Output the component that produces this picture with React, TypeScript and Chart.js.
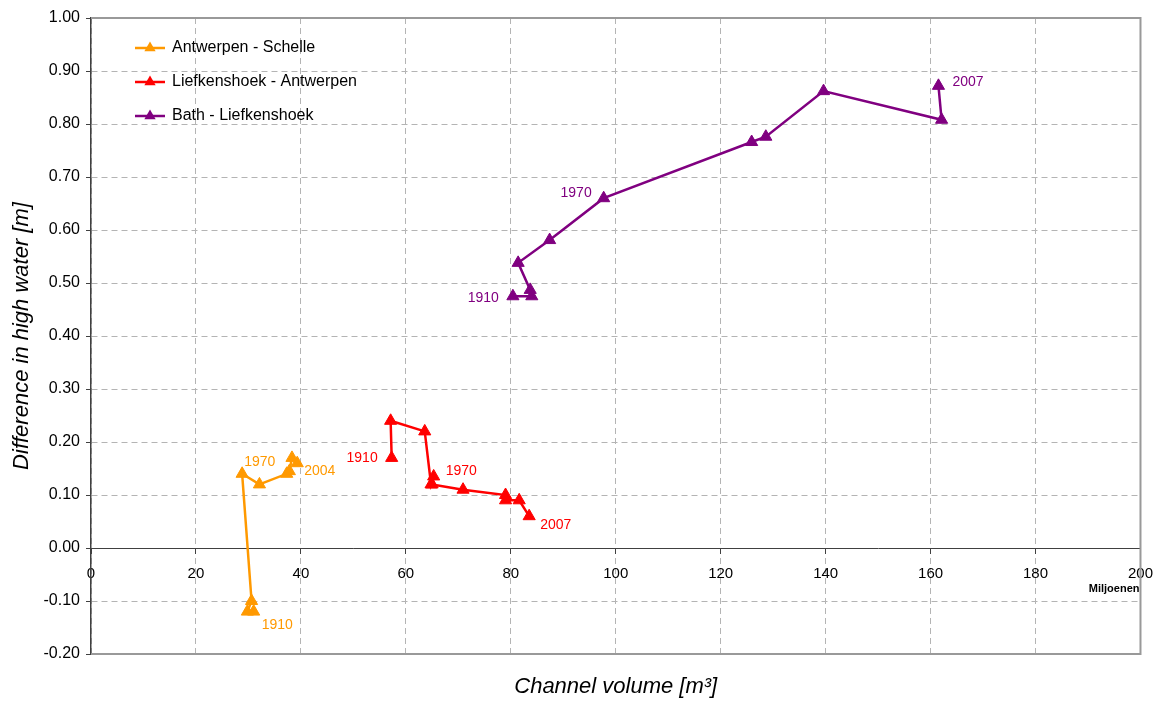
import React, { useEffect, useRef } from "react";
import { Chart, registerables } from "chart.js";

Chart.register(...registerables);

// ---- Data ----
const schelleX = [31.0, 29.8, 30.6, 28.8, 32.1, 37.3, 37.8, 38.3, 39.3];
const schelleY = [-0.12, -0.12, -0.10, 0.14, 0.12, 0.14, 0.145, 0.17, 0.16];
const schelleLabels = ["1910", "", "", "1970", "", "", "", "", "2004"];

const liefX = [57.3, 57.1, 63.6, 64.8, 65.3, 65.0, 70.9, 79.0, 79.0, 81.6, 83.5];
const liefY = [0.17, 0.24, 0.22, 0.12, 0.135, 0.12, 0.11, 0.10, 0.09, 0.09, 0.06];
const liefLabels = ["1910", "", "", "", "1970", "", "", "", "", "", "2007"];

const bathX = [80.4, 84.0, 83.7, 81.4, 87.4, 97.7, 125.9, 128.6, 139.6, 162.1, 161.5];
const bathY = [0.475, 0.475, 0.487, 0.538, 0.581, 0.66, 0.766, 0.776, 0.862, 0.808, 0.872];
const bathLabels = ["1910", "", "", "", "", "1970", "", "", "", "", "2007"];

const seriesNames = ["Antwerpen - Schelle", "Liefkenshoek - Antwerpen", "Bath - Liefkenshoek"];
const seriesColors = ["#FF9900", "#FF0000", "#800080"];

const xTitle = "Channel volume [m³]";
const yTitle = "Difference in high water [m]";
const xUnitNote = "Miljoenen";

// ---- Styles (label placement relative to point, in px) ----
const FONT = "'Liberation Sans', Arial, sans-serif";
const labelPlacement: Record<string, { dx: number; dy: number; align: CanvasTextAlign }>[] = [
  {
    "1910": { dx: 8, dy: 14, align: "left" },
    "1970": { dx: 2, dy: -12, align: "left" },
    "2004": { dx: 7, dy: 8, align: "left" },
  },
  {
    "1910": { dx: -14, dy: 0, align: "right" },
    "1970": { dx: 12, dy: -5, align: "left" },
    "2007": { dx: 11, dy: 9, align: "left" },
  },
  {
    "1910": { dx: -14, dy: 2, align: "right" },
    "1970": { dx: -12, dy: -5, align: "right" },
    "2007": { dx: 14, dy: -4, align: "left" },
  },
];

const toPoints = (xs: number[], ys: number[]) => xs.map((x, i) => ({ x, y: ys[i] }));

const allLabels = [schelleLabels, liefLabels, bathLabels];

const decorPlugin = {
  id: "decor",
  beforeDatasetsDraw(chart: any) {
    const { ctx, chartArea: a } = chart;
    ctx.save();
    ctx.strokeStyle = "#999999";
    ctx.lineWidth = 2;
    ctx.beginPath();
    ctx.moveTo(a.left, a.top);
    ctx.lineTo(a.right, a.top);
    ctx.lineTo(a.right, a.bottom);
    ctx.lineTo(a.left, a.bottom);
    ctx.stroke();
    ctx.restore();
  },
  afterDatasetsDraw(chart: any) {
    const { ctx, chartArea: a } = chart;
    ctx.save();
    // data labels
    ctx.font = `14px ${FONT}`;
    ctx.textBaseline = "middle";
    chart.data.datasets.forEach((ds: any, di: number) => {
      const meta = chart.getDatasetMeta(di);
      allLabels[di].forEach((txt, i) => {
        if (!txt) return;
        const el = meta.data[i];
        const pl = labelPlacement[di][txt];
        ctx.fillStyle = seriesColors[di];
        ctx.textAlign = pl.align;
        ctx.fillText(txt, el.x + pl.dx, el.y + pl.dy);
      });
    });
    // legend
    ctx.font = `16px ${FONT}`;
    ctx.textAlign = "left";
    ctx.textBaseline = "middle";
    seriesNames.forEach((name, i) => {
      const y = a.top + 30 + i * 34;
      const x0 = a.left + 44;
      ctx.strokeStyle = seriesColors[i];
      ctx.lineWidth = 2.5;
      ctx.beginPath();
      ctx.moveTo(x0, y);
      ctx.lineTo(x0 + 30, y);
      ctx.stroke();
      ctx.fillStyle = seriesColors[i];
      const r = 6.5;
      ctx.beginPath();
      ctx.moveTo(x0 + 15, y - r);
      ctx.lineTo(x0 + 15 + r * 0.87, y + r * 0.5);
      ctx.lineTo(x0 + 15 - r * 0.87, y + r * 0.5);
      ctx.closePath();
      ctx.fill();
      ctx.fillStyle = "#000";
      ctx.fillText(name, x0 + 37, y);
    });
    ctx.restore();
  },
  afterDraw(chart: any) {
    const { ctx, chartArea: a } = chart;
    ctx.save();
    ctx.fillStyle = "#000";
    ctx.font = `italic 22px ${FONT}`;
    ctx.textAlign = "center";
    ctx.textBaseline = "middle";
    ctx.fillText(xTitle, (a.left + a.right) / 2, a.bottom + 33);
    ctx.save();
    ctx.translate(22, (a.top + a.bottom) / 2);
    ctx.rotate(-Math.PI / 2);
    ctx.fillText(yTitle, 0, 0);
    ctx.restore();
    ctx.font = `bold 11px ${FONT}`;
    ctx.textAlign = "right";
    const y0 = chart.scales.y.getPixelForValue(0);
    ctx.fillText(xUnitNote, a.right - 1, y0 + 41);
    ctx.restore();
  },
};

const whiteBg = {
  id: "whiteBg",
  beforeDraw(chart: any) {
    const { ctx, width, height } = chart;
    ctx.save();
    ctx.fillStyle = "#fff";
    ctx.fillRect(0, 0, width, height);
    ctx.restore();
  },
};

const fmtY = (v: any) => {
  const n = Math.round(Number(v) * 100) / 100;
  return (Object.is(n, -0) || Math.abs(n) < 1e-9 ? 0 : n).toFixed(2);
};

export default function App() {
  const ref = useRef<HTMLCanvasElement | null>(null);
  useEffect(() => {
    document.body.style.margin = "0";
    if (!ref.current) return;
    const mk = (i: number, xs: number[], ys: number[]) => ({
      label: seriesNames[i],
      data: toPoints(xs, ys),
      borderColor: seriesColors[i],
      backgroundColor: seriesColors[i],
      borderWidth: 2.5,
      pointStyle: "triangle",
      pointRadius: 7,
      pointBorderWidth: 1,
      pointHoverRadius: 7,
      showLine: true,
      tension: 0,
    });
    const chart = new Chart(ref.current, {
      type: "scatter",
      data: {
        datasets: [mk(0, schelleX, schelleY), mk(1, liefX, liefY), mk(2, bathX, bathY)],
      },
      options: {
        animation: false,
        responsive: false,
        devicePixelRatio: 1,
        layout: { padding: { left: 0, right: 24, top: 18, bottom: 48 } },
        plugins: { legend: { display: false }, tooltip: { enabled: false } },
        scales: {
          x: {
            type: "linear",
            min: 0,
            max: 200,
            position: { y: 0 } as any,
            ticks: {
              stepSize: 20,
              color: "#000",
              font: { family: FONT, size: 15 },
              padding: 12,
              maxRotation: 0,
            },
            grid: {
              color: "#b4b4b4",
              drawTicks: true,
              tickLength: 5,
              tickColor: "#404040",
              tickBorderDash: [],
            } as any,
            border: { display: true, color: "#404040", width: 1, dash: [6, 4] } as any,
          },
          y: {
            type: "linear",
            min: -0.2,
            max: 1.0,
            afterFit: (s: any) => {
              s.width = 91;
            },
            ticks: {
              stepSize: 0.1,
              color: "#000",
              font: { family: FONT, size: 16 },
              padding: 6,
              callback: (v: any) => fmtY(v),
            },
            grid: {
              color: "#b4b4b4",
              drawTicks: true,
              tickLength: 5,
              tickColor: "#404040",
              tickBorderDash: [],
            } as any,
            border: { display: true, color: "#404040", width: 1.5, dash: [6, 4] } as any,
          },
        },
      } as any,
      plugins: [whiteBg, decorPlugin],
    });
    return () => chart.destroy();
  }, []);
  return <canvas ref={ref} width={1165} height={702} style={{ display: "block" }} />;
}
